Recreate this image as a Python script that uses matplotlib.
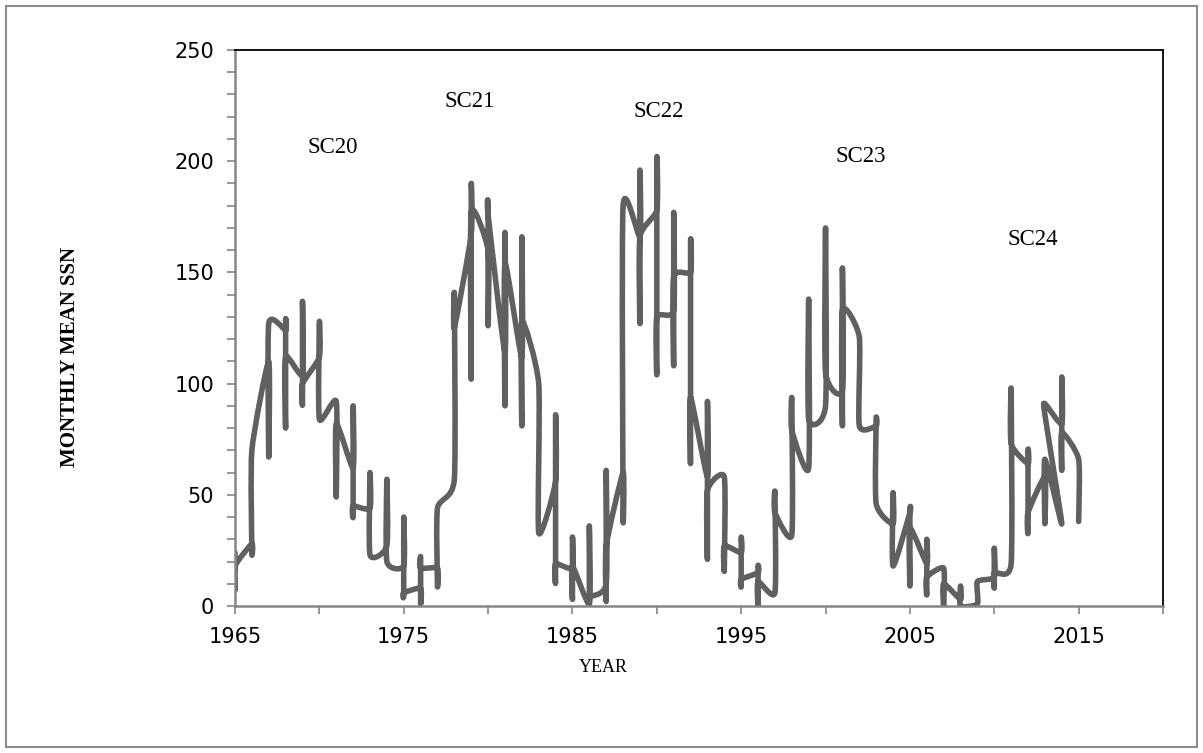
import matplotlib
matplotlib.use("Agg")
import matplotlib.pyplot as plt
from matplotlib.path import Path
from matplotlib.patches import PathPatch, Rectangle
from matplotlib.ticker import MultipleLocator

# Monthly mean SSN as drawn: every month of a year sits on the same x (the year),
# so each year is a vertical run; values are listed in drawing order.
years = [1965, 1966, 1967, 1968, 1969, 1970, 1971, 1972, 1973, 1974,
         1975, 1976, 1977, 1978, 1979, 1980, 1981, 1982, 1983, 1984,
         1985, 1986, 1987, 1988, 1989, 1990, 1991, 1992, 1993, 1994,
         1995, 1996, 1997, 1998, 1999, 2000, 2001, 2002, 2003, 2004,
         2005, 2006, 2007, 2008, 2009, 2010, 2011, 2012,
         2013, 2014, 2013, 2014, 2015]
ssn_runs = [
    [24, 7, 18], [28, 24, 70], [110, 67, 127], [124, 128, 80, 112],
    [104, 137, 91, 100], [112, 128, 84], [92, 49, 82], [62, 90, 41, 45],
    [44, 60, 23], [27, 57, 20], [18, 40, 5, 6], [8, 1, 22, 17],
    [17, 9, 44], [57, 140, 125], [167, 189, 102, 177], [160, 126, 180, 176],
    [114, 168, 90, 154], [112, 166, 81, 128], [100, 33], [56, 86, 12, 19],
    [17, 31, 3, 18], [1, 36, 0, 4], [10, 61, 2, 27], [60, 40, 180],
    [166, 196, 127, 166], [178, 201, 105, 130], [133, 177, 108, 148],
    [150, 163, 64, 94], [58, 92, 21, 52], [58, 16, 27], [24, 31, 9, 12],
    [15, 18, 0, 11], [6, 51, 42], [32, 93, 79], [62, 138, 84],
    [90, 170, 105], [97, 152, 81, 133], [121, 81], [81, 84, 46],
    [37, 51, 18], [42, 43, 9, 35], [19, 30, 5, 13], [17, 0, 10],
    [3, 9, 0], [1, 11], [13, 26, 8, 15], [19, 98, 73], [64, 70, 33, 42],
    [58, 37, 66], [37], [86, 91], [82, 103, 61, 78], [66, 38],
]

cycle_labels = ["SC20", "SC21", "SC22", "SC23", "SC24"]
label_x = [1970.8, 1978.9, 1990.1, 2002.1, 2012.3]
label_y = [206, 227, 222.5, 202, 165]

LINE_COLOR = "#606060"
AXIS_GRAY = "#868686"

plt.rcParams["font.family"] = ["DejaVu Sans"]

# flatten into the drawn vertex sequence
xs, ys = [], []
for yr, run in zip(years, ssn_runs):
    for v in run:
        if xs and xs[-1] == yr and ys[-1] == v:
            continue
        xs.append(yr)
        ys.append(v)


def smooth_path(x, y, t=0.1):
    """Catmull-Rom style bezier through the points (like Excel's smoothed line)."""
    pts = list(zip(x, y))
    n = len(pts)
    verts = [pts[0]]
    codes = [Path.MOVETO]
    for i in range(n - 1):
        p0 = pts[i - 1] if i > 0 else pts[i]
        p1 = pts[i]
        p2 = pts[i + 1]
        p3 = pts[i + 2] if i + 2 < n else pts[i + 1]
        c1 = (p1[0] + (p2[0] - p0[0]) * t, p1[1] + (p2[1] - p0[1]) * t)
        c2 = (p2[0] - (p3[0] - p1[0]) * t, p2[1] - (p3[1] - p1[1]) * t)
        verts += [c1, c2, p2]
        codes += [Path.CURVE4] * 3
    return Path(verts, codes)


fig = plt.figure(figsize=(12.03, 7.53), dpi=100)
fig.patches.append(Rectangle((6 / 1203, 6 / 753), 1191 / 1203, 741 / 753,
                             transform=fig.transFigure, fill=False,
                             edgecolor="#8c8c8c", linewidth=1.5))
ax = fig.add_axes([235 / 1203, 1 - 606 / 753, 928 / 1203, 556 / 753])

ax.add_patch(PathPatch(smooth_path(xs, ys), fill=False, edgecolor=LINE_COLOR,
                       linewidth=4.0, capstyle="round", joinstyle="round"))

ax.set_xlim(1965, 2020)
ax.set_ylim(0, 250)
ax.set_xticks([1965, 1975, 1985, 1995, 2005, 2015])
ax.xaxis.set_minor_locator(MultipleLocator(5))
ax.yaxis.set_major_locator(MultipleLocator(50))
ax.yaxis.set_minor_locator(MultipleLocator(10))

for side in ("top", "right"):
    ax.spines[side].set_color("black")
    ax.spines[side].set_linewidth(1.3)
for side in ("left", "bottom"):
    ax.spines[side].set_color(AXIS_GRAY)
    ax.spines[side].set_linewidth(1.8)

ax.tick_params(which="both", direction="out", color=AXIS_GRAY, length=6, width=1.2)
ax.tick_params(axis="both", which="major", pad=9, labelsize=15)

ax.set_xlabel("YEAR", fontfamily="Liberation Serif", fontsize=13)
ax.xaxis.set_label_coords(0.397, -0.1115)
ax.xaxis.label.set_va("center")
ax.set_ylabel("MONTHLY MEAN SSN", fontfamily="Liberation Serif",
              fontsize=15, fontweight="bold")
ax.yaxis.set_label_coords(-0.178, 0.448)
ax.yaxis.label.set_va("center")

for txt, lx, ly in zip(cycle_labels, label_x, label_y):
    ax.text(lx, ly, txt, ha="center", va="center",
            fontfamily="Liberation Serif", fontsize=16.5)

fig.savefig("out.png", dpi=100)
